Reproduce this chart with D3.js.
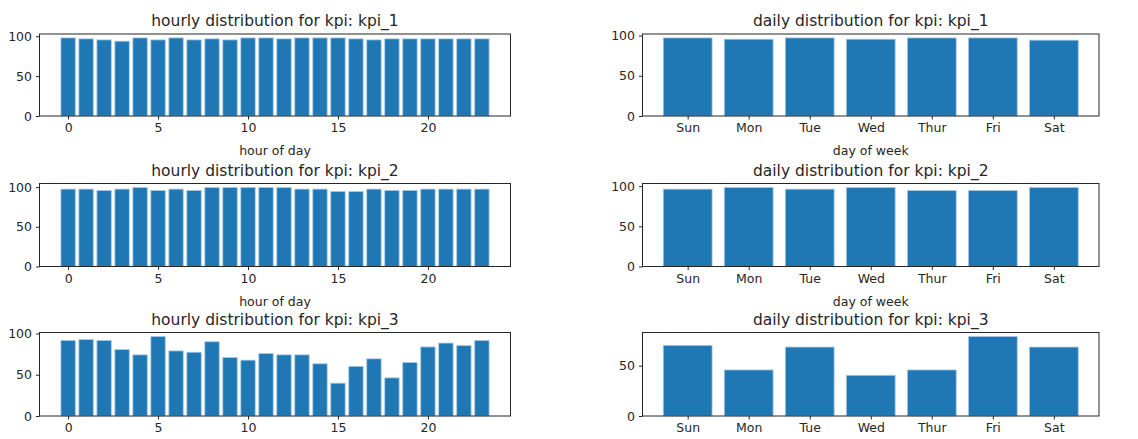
<!DOCTYPE html>
<html>
<head>
<meta charset="utf-8">
<script src="https://cdn.jsdelivr.net/npm/d3@7"></script>
<style>
  html, body { margin: 0; padding: 0; background: #fff; }
  svg { display: block; }
  text { font-family: "DejaVu Sans", sans-serif; fill: #262626; }
</style>
</head>
<body>
<svg id="chart" width="1138" height="439"></svg>
<script>
// hour-of-day categories and day-of-week categories
const hours = d3.range(0, 24);
const days = ["Sun", "Mon", "Tue", "Wed", "Thur", "Fri", "Sat"];

// hourly values per kpi
const hourlyKpi1 = [97.9, 96.7, 95.4, 93.8, 97.9, 95.4, 97.9, 95.4, 96.7, 95.4, 97.9, 97.9,
                    96.7, 97.9, 97.9, 97.9, 96.7, 95.4, 96.7, 96.7, 96.7, 96.7, 96.7, 96.7];
const hourlyKpi2 = [97.5, 97.5, 95.9, 97.5, 99.6, 95.9, 97.5, 95.9, 99.6, 99.6, 99.6, 99.6,
                    99.6, 97.5, 97.5, 94.6, 94.6, 97.5, 95.9, 95.9, 97.5, 97.5, 97.5, 97.5];
const hourlyKpi3 = [91.6, 92.8, 91.6, 80.5, 74.1, 96.4, 78.9, 77.3, 90.0, 70.9, 67.7, 75.7,
                    74.1, 74.1, 63.3, 39.8, 60.2, 69.3, 46.2, 64.9, 83.7, 88.4, 85.3, 91.6];

// daily values per kpi
const dailyKpi1 = [97.1, 95.5, 97.1, 95.5, 97.1, 97.1, 94.3];
const dailyKpi2 = [96.3, 98.4, 96.3, 98.4, 94.7, 94.7, 98.4];
const dailyKpi3 = [70.3, 45.8, 68.6, 40.5, 45.8, 79.1, 68.6];

// axis tick values
const hourTicks = [0, 5, 10, 15, 20];
const valueTicks = [0, 50, 100];

const kpiNames = ["kpi_1", "kpi_2", "kpi_3"];

const barColor = "#1f77b4";
const svg = d3.select("#chart");

// panel frames: [left, right] columns, three rows
const cols = [{ x0: 39.5, x1: 510.5 }, { x0: 642.5, x1: 1099 }];
const rows = [{ y0: 34, y1: 116 }, { y0: 183.5, y1: 266.5 }, { y0: 332.5, y1: 416 }];

function panel(col, row, cats, values, title, xlabel, isHourly) {
  const c = cols[col], r = rows[row];
  const g = svg.append("g");

  // x: bars of width 0.8 centred on integer positions, 5% margin each side
  const n = cats.length;
  const span = (n - 1) + 0.8;
  const pad = span * 0.05;
  const x = d3.scaleLinear().domain([-0.4 - pad, n - 1 + 0.4 + pad]).range([c.x0, c.x1]);
  const yMax = d3.max(values) * 1.05;
  const y = d3.scaleLinear().domain([0, yMax]).range([r.y1, r.y0]);

  g.selectAll("rect.bar").data(values).join("rect")
    .attr("class", "bar")
    .attr("x", (d, i) => x(i - 0.4))
    .attr("width", (d, i) => x(i + 0.4) - x(i - 0.4))
    .attr("y", d => y(d))
    .attr("height", d => y(0) - y(d))
    .attr("fill", barColor)
    .attr("stroke", "#a9cbe6")
    .attr("stroke-width", 0.8);

  // x axis
  const xAxis = isHourly
    ? d3.axisBottom(x).tickValues(hourTicks).tickFormat(d3.format("d"))
    : d3.axisBottom(x).tickValues(d3.range(n)).tickFormat(i => cats[i]);
  const gx = g.append("g").attr("transform", `translate(0,${r.y1})`)
    .call(xAxis.tickSizeOuter(0).tickSize(3.5).tickPadding(4));
  gx.select(".domain").remove();
  gx.selectAll("line").attr("stroke", "#262626");
  gx.selectAll("text").attr("font-size", 12.5).style("fill", "#262626");

  // y axis
  const gy = g.append("g").attr("transform", `translate(${c.x0},0)`)
    .call(d3.axisLeft(y).tickValues(valueTicks.filter(v => v <= yMax)).tickSizeOuter(0).tickSize(3.5).tickPadding(4));
  gy.select(".domain").remove();
  gy.selectAll("line").attr("stroke", "#262626");
  gy.selectAll("text").attr("font-size", 12.5).style("fill", "#262626");

  // frame
  g.append("rect")
    .attr("x", c.x0).attr("y", r.y0)
    .attr("width", c.x1 - c.x0).attr("height", r.y1 - r.y0)
    .attr("fill", "none").attr("stroke", "#262626").attr("stroke-width", 1);

  // title
  g.append("text")
    .attr("x", (c.x0 + c.x1) / 2).attr("y", r.y0 - 8)
    .attr("text-anchor", "middle").attr("font-size", 15.5)
    .text(title);

  // x label (the bottom row's labels fall below the visible area)
  if (xlabel) {
    g.append("text")
      .attr("x", (c.x0 + c.x1) / 2).attr("y", r.y1 + 39)
      .attr("text-anchor", "middle").attr("font-size", 12.5)
      .text(xlabel);
  }
}

const hourlySets = [hourlyKpi1, hourlyKpi2, hourlyKpi3];
const dailySets = [dailyKpi1, dailyKpi2, dailyKpi3];

kpiNames.forEach((k, i) => {
  const last = i === kpiNames.length - 1;
  panel(0, i, hours, hourlySets[i], `hourly distribution for kpi: ${k}`, last ? null : "hour of day", true);
  panel(1, i, days, dailySets[i], `daily distribution for kpi: ${k}`, last ? null : "day of week", false);
});
</script>
</body>
</html>
